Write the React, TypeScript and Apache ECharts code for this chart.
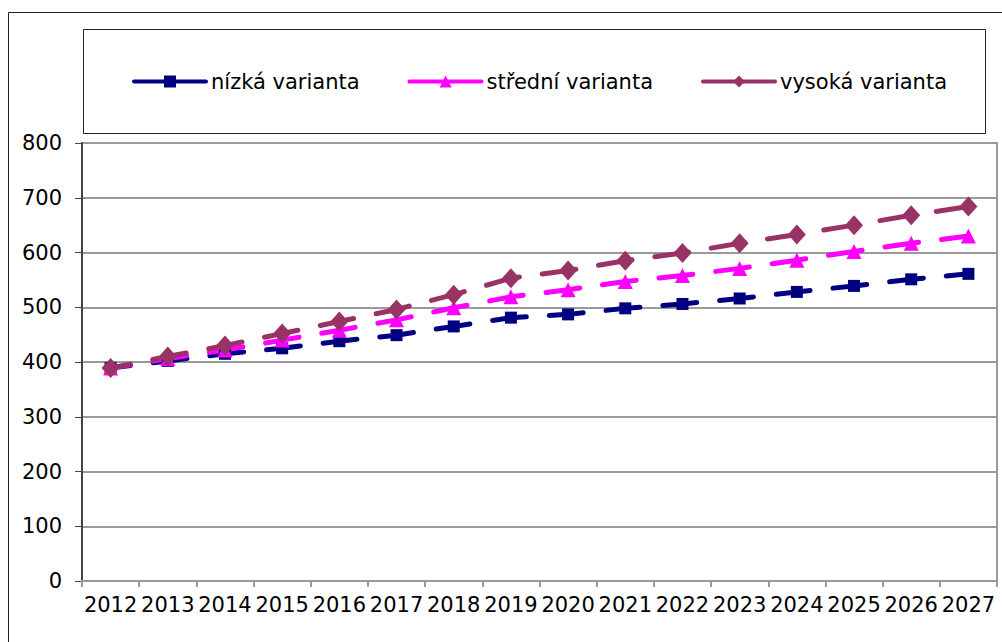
import React, { useEffect, useRef } from "react";
import * as echarts from "echarts";

const years = ["2012","2013","2014","2015","2016","2017","2018","2019","2020","2021","2022","2023","2024","2025","2026","2027"];
const lowValues = [389, 402, 415, 425, 438, 449, 465, 481, 487, 498, 506, 516, 528, 539, 551, 561];
const midValues = [389, 406, 422, 440, 458, 477, 499, 519, 532, 547, 558, 571, 586, 602, 617, 630];
const highValues = [389, 410, 430, 452, 474, 496, 523, 553, 567, 585, 599, 617, 633, 650, 668, 684];
const seriesNames = ["nízká varianta", "střední varianta", "vysoká varianta"];
const yTicks = { min: 0, max: 800, interval: 100 };

const FONT = "DejaVu Sans, Verdana, sans-serif";

export default function App() {
  const ref = useRef<HTMLDivElement>(null);
  useEffect(() => {
    if (!ref.current) return;
    const chart = echarts.init(ref.current, null, { renderer: "svg" });
    const dash = { type: [34, 23] as any, dashOffset: 14, cap: "round" as any, width: 5 };
    chart.setOption({
      animation: false,
      backgroundColor: "#fff",
      textStyle: { fontFamily: FONT },
      graphic: [
        { type: "rect", shape: { x: 8.5, y: 12.5, width: 1000, height: 640 }, style: { fill: "none", stroke: "#222", lineWidth: 1 }, silent: true },
        { type: "rect", shape: { x: 83.5, y: 29.5, width: 902, height: 104 }, style: { fill: "none", stroke: "#222", lineWidth: 1 }, silent: true },
      ],
      legend: {
        left: 127,
        top: 66,
        itemWidth: 72,
        itemHeight: 15,
        itemGap: 48,
        lineStyle: { type: "solid", width: 4 },
        textStyle: { fontFamily: FONT, fontSize: 21, color: "#000" },
        data: seriesNames,
      },
      grid: {
        left: 82, top: 143, right: 5, bottom: 61,
        show: true, borderColor: "#9a9a9a", borderWidth: 2, backgroundColor: "#fff",
      },
      xAxis: {
        type: "category",
        data: years,
        boundaryGap: true,
        axisLine: { lineStyle: { color: "#9a9a9a", width: 2 } },
        axisTick: { show: true, length: 6, alignWithLabel: false, lineStyle: { color: "#9a9a9a", width: 2 } },
        axisLabel: { interval: 0, fontFamily: FONT, fontSize: 21, color: "#000", margin: 13 },
      },
      yAxis: {
        type: "value",
        min: yTicks.min,
        max: yTicks.max,
        interval: yTicks.interval,
        axisLine: { show: true, lineStyle: { color: "#444", width: 2 } },
        axisTick: { show: true, length: 7, lineStyle: { color: "#444", width: 1 } },
        axisLabel: { fontFamily: FONT, fontSize: 21, color: "#000", margin: 20 },
        splitLine: { show: true, lineStyle: { color: "#9a9a9a", width: 2 } },
      },
      series: [
        {
          name: seriesNames[0], type: "line", data: lowValues,
          symbol: "rect", symbolSize: 12, color: "#000080",
          lineStyle: { ...dash, color: "#000080" }, itemStyle: { color: "#000080" },
        },
        {
          name: seriesNames[1], type: "line", data: midValues,
          symbol: "triangle", symbolSize: 15, color: "#FF00FF",
          lineStyle: { ...dash, color: "#FF00FF" }, itemStyle: { color: "#FF00FF" },
        },
        {
          name: seriesNames[2], type: "line", data: highValues,
          symbol: "diamond", symbolSize: [18, 20], color: "#993366",
          lineStyle: { ...dash, color: "#993366" }, itemStyle: { color: "#993366" },
        },
      ],
    });
    return () => chart.dispose();
  }, []);
  return <div ref={ref} style={{ position: "fixed", left: 0, top: 0, width: 1002, height: 642 }} />;
}
